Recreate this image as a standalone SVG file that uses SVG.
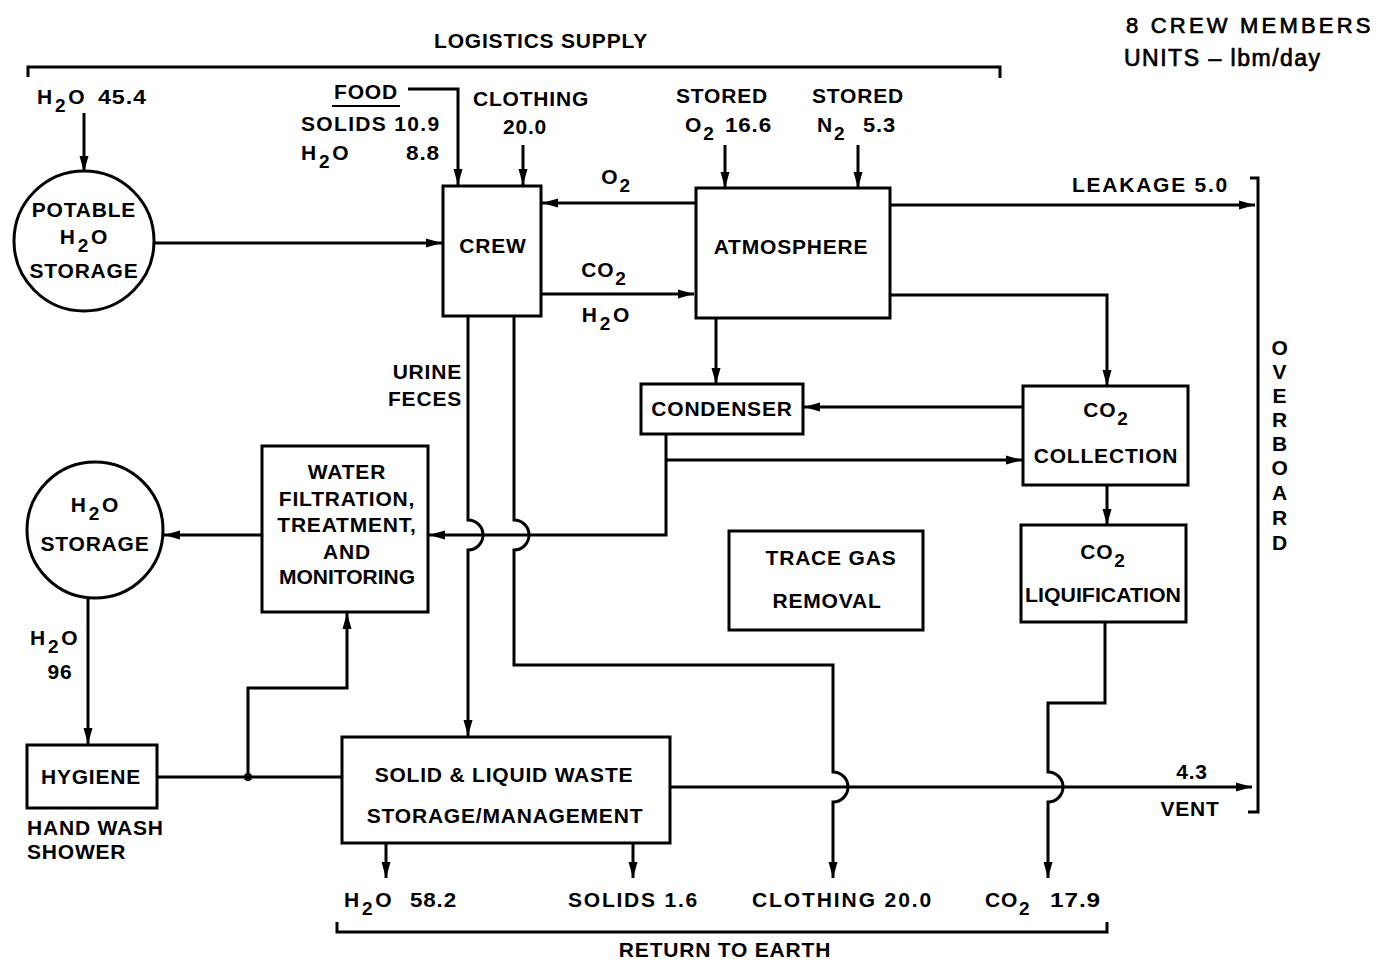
<svg xmlns="http://www.w3.org/2000/svg" width="1380" height="965" viewBox="0 0 1380 965">
<style>
text{font-family:"Liberation Sans",Arial,sans-serif;font-weight:bold;font-size:21px;letter-spacing:0.8px;fill:#000}
.m{text-anchor:middle}
.e{text-anchor:end}
.sub{font-size:19px}
.ln{fill:none;stroke:#000;stroke-width:3}
.box{fill:#fff;stroke:#000;stroke-width:3}
.hd{font-weight:normal;font-size:22px;letter-spacing:3.2px;stroke:#000;stroke-width:0.7}
</style>
<defs>
<marker id="ar" markerUnits="userSpaceOnUse" markerWidth="18" markerHeight="10" refX="16" refY="5" orient="auto">
<path d="M0,0.5 L16,5 L0,9.5 z" fill="#000"/>
</marker>
</defs>
<rect width="1380" height="965" fill="#fff"/>

<g id="connectors">
<path class="ln" d="M28,77 V67 H1000 V78"/>
<path class="ln" d="M337,922 V932 H1107 V922"/>
<path class="ln" d="M1250,178 H1258 V812 H1248"/>
<path class="ln" d="M84,113 V172" marker-end="url(#ar)"/>
<path class="ln" d="M408,89 H458 V185" marker-end="url(#ar)"/>
<path class="ln" d="M523,145 V185" marker-end="url(#ar)"/>
<path class="ln" d="M725,145 V188" marker-end="url(#ar)"/>
<path class="ln" d="M858,145 V188" marker-end="url(#ar)"/>
<path class="ln" d="M155,243 H442" marker-end="url(#ar)"/>
<path class="ln" d="M696,203 H542" marker-end="url(#ar)"/>
<path class="ln" d="M541,294 H694" marker-end="url(#ar)"/>
<path class="ln" d="M890,205 H1255" marker-end="url(#ar)"/>
<path class="ln" d="M890,295 H1107 V386" marker-end="url(#ar)"/>
<path class="ln" d="M716,318 V384" marker-end="url(#ar)"/>
<path class="ln" d="M1023,407 H804" marker-end="url(#ar)"/>
<path class="ln" d="M666,460 H1022" marker-end="url(#ar)"/>
<path class="ln" d="M666,434 V535 H429" marker-end="url(#ar)"/>
<path class="ln" d="M1107,485 V525" marker-end="url(#ar)"/>
<path class="ln" d="M468,316 V520 A15,15 0 0 1 468,550 V736" marker-end="url(#ar)"/>
<path class="ln" d="M514,316 V520 A15,15 0 0 1 514,550 V665 H833 V772 A15,15 0 0 1 833,802 V878" marker-end="url(#ar)"/>
<path class="ln" d="M1105,622 V703 H1048 V772 A15,15 0 0 1 1048,802 V878" marker-end="url(#ar)"/>
<path class="ln" d="M262,535 H164" marker-end="url(#ar)"/>
<path class="ln" d="M88,598 V744" marker-end="url(#ar)"/>
<path class="ln" d="M157,777 H342"/>
<circle cx="248" cy="777" r="4" fill="#000"/>
<path class="ln" d="M248,777 V688 H347 V613" marker-end="url(#ar)"/>
<path class="ln" d="M670,787 H1252" marker-end="url(#ar)"/>
<path class="ln" d="M386,843 V878" marker-end="url(#ar)"/>
<path class="ln" d="M633,843 V878" marker-end="url(#ar)"/>
</g>

<g id="potable-storage">
<circle cx="84" cy="241" r="70" class="box"/>
<text x="84" y="217" class="m">POTABLE</text>
<text x="84" y="244" class="m">H<tspan class="sub" dx="2" dy="8">2</tspan><tspan dx="2" dy="-8">O</tspan></text>
<text x="84" y="278" class="m">STORAGE</text>
</g>

<g id="crew">
<rect x="443" y="186" width="98" height="130" class="box"/>
<text x="493" y="253" class="m">CREW</text>
</g>

<g id="atmosphere">
<rect x="696" y="188" width="194" height="130" class="box"/>
<text x="791" y="254" class="m">ATMOSPHERE</text>
</g>

<g id="condenser">
<rect x="641" y="384" width="162" height="50" class="box"/>
<text x="722" y="416" class="m">CONDENSER</text>
</g>

<g id="co2-collection">
<rect x="1023" y="386" width="165" height="99" class="box"/>
<text x="1106" y="417" class="m">CO<tspan class="sub" dx="1" dy="8">2</tspan></text>
<text x="1106" y="463" class="m">COLLECTION</text>
</g>

<g id="co2-liquification">
<rect x="1021" y="525" width="165" height="97" class="box"/>
<text x="1103" y="559" class="m">CO<tspan class="sub" dx="1" dy="8">2</tspan></text>
<text x="1103" y="602" class="m" style="letter-spacing:0" textLength="156" lengthAdjust="spacingAndGlyphs">LIQUIFICATION</text>
</g>

<g id="trace-gas">
<rect x="729" y="531" width="194" height="99" class="box"/>
<text x="831" y="565" class="m">TRACE GAS</text>
<text x="827" y="608" class="m">REMOVAL</text>
</g>

<g id="water-filtration">
<rect x="262" y="446" width="166" height="166" class="box"/>
<text x="347" y="479" class="m">WATER</text>
<text x="347" y="506" class="m">FILTRATION,</text>
<text x="347" y="532" class="m">TREATMENT,</text>
<text x="347" y="559" class="m">AND</text>
<text x="347" y="584" class="m" style="letter-spacing:0">MONITORING</text>
</g>

<g id="h2o-storage">
<circle cx="95" cy="530" r="68" class="box"/>
<text x="95" y="512" class="m">H<tspan class="sub" dx="2" dy="8">2</tspan><tspan dx="2" dy="-8">O</tspan></text>
<text x="95" y="551" class="m">STORAGE</text>
</g>

<g id="hygiene">
<rect x="27" y="745" width="130" height="63" class="box"/>
<text x="91" y="784" class="m">HYGIENE</text>
</g>

<g id="waste">
<rect x="342" y="737" width="328" height="106" class="box"/>
<text x="504" y="782" class="m">SOLID &amp; LIQUID WASTE</text>
<text x="505" y="823" class="m">STORAGE/MANAGEMENT</text>
</g>

<g id="labels">
<text x="541" y="48" class="m">LOGISTICS SUPPLY</text>
<text x="1126" y="33" class="hd">8 CREW MEMBERS</text>
<text x="1124" y="66" class="hd" style="font-size:23px;letter-spacing:1.5px">UNITS – lbm/day</text>
<text x="37" y="104">H<tspan class="sub" dx="2" dy="8">2</tspan><tspan dx="2" dy="-8">O</tspan></text>
<text x="98" y="104" textLength="49" lengthAdjust="spacingAndGlyphs">45.4</text>
<text x="366" y="99" class="m">FOOD</text>
<path d="M332,106 H400" stroke="#000" stroke-width="2"/>
<text x="301" y="131" textLength="139" lengthAdjust="spacing">SOLIDS 10.9</text>
<text x="301" y="160">H<tspan class="sub" dx="2" dy="8">2</tspan><tspan dx="2" dy="-8">O</tspan></text>
<text x="406" y="160" textLength="34" lengthAdjust="spacingAndGlyphs">8.8</text>
<text x="531" y="106" class="m">CLOTHING</text>
<text x="525" y="134" class="m">20.0</text>
<text x="722" y="103" class="m">STORED</text>
<text x="685" y="132">O<tspan class="sub" dx="1" dy="8">2</tspan></text>
<text x="725" y="132" textLength="47" lengthAdjust="spacingAndGlyphs">16.6</text>
<text x="858" y="103" class="m">STORED</text>
<text x="817" y="132">N<tspan class="sub" dx="1" dy="8">2</tspan></text>
<text x="863" y="132" textLength="33" lengthAdjust="spacingAndGlyphs">5.3</text>
<text x="616" y="184" class="m">O<tspan class="sub" dx="1" dy="8">2</tspan></text>
<text x="604" y="277" class="m">CO<tspan class="sub" dx="1" dy="8">2</tspan></text>
<text x="606" y="322" class="m">H<tspan class="sub" dx="2" dy="8">2</tspan><tspan dx="2" dy="-8">O</tspan></text>
<text x="1072" y="192" textLength="156" lengthAdjust="spacing">LEAKAGE 5.0</text>
<text x="462" y="379" class="e">URINE</text>
<text x="462" y="406" class="e">FECES</text>
<text x="30" y="645">H<tspan class="sub" dx="2" dy="8">2</tspan><tspan dx="2" dy="-8">O</tspan></text>
<text x="60" y="679" class="m">96</text>
<text x="27" y="835">HAND WASH</text>
<text x="27" y="859">SHOWER</text>
<text x="1192" y="779" class="m">4.3</text>
<text x="1190" y="816" class="m">VENT</text>
<text x="344" y="907">H<tspan class="sub" dx="2" dy="8">2</tspan><tspan dx="2" dy="-8">O</tspan></text>
<text x="410" y="907" textLength="47" lengthAdjust="spacingAndGlyphs">58.2</text>
<text x="568" y="907" textLength="130" lengthAdjust="spacing">SOLIDS 1.6</text>
<text x="752" y="907" textLength="180" lengthAdjust="spacing">CLOTHING 20.0</text>
<text x="985" y="907">CO<tspan class="sub" dx="1" dy="8">2</tspan></text>
<text x="1050" y="907" textLength="51" lengthAdjust="spacingAndGlyphs">17.9</text>
<text x="725" y="957" class="m">RETURN TO EARTH</text>
<text x="1280" y="355" class="m">O</text>
<text x="1280" y="379" class="m">V</text>
<text x="1280" y="403" class="m">E</text>
<text x="1280" y="427" class="m">R</text>
<text x="1280" y="451" class="m">B</text>
<text x="1280" y="475" class="m">O</text>
<text x="1280" y="500" class="m">A</text>
<text x="1280" y="525" class="m">R</text>
<text x="1280" y="550" class="m">D</text>
</g>
</svg>
